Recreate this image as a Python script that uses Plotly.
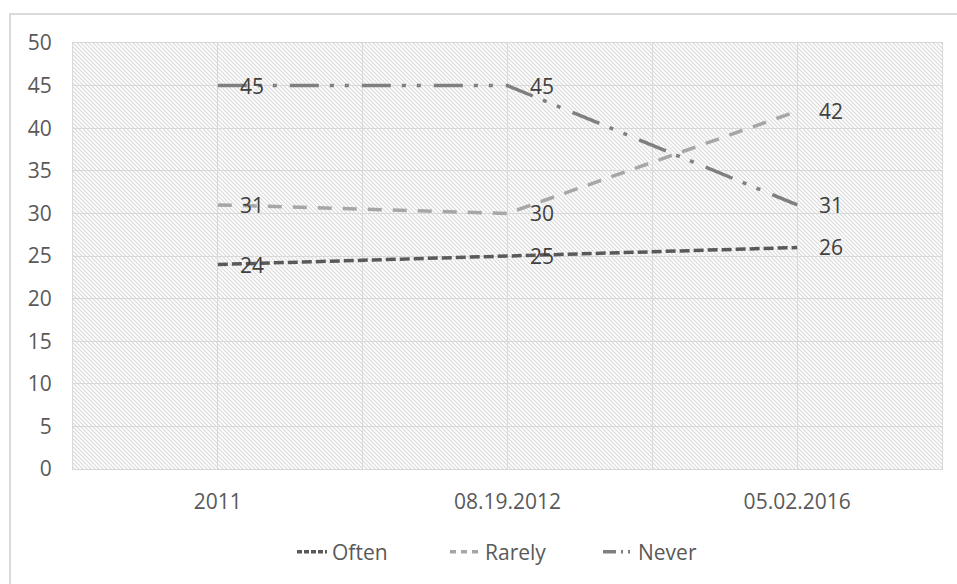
import base64
import plotly.graph_objects as go

categories = ["2011", "08.19.2012", "05.02.2016"]
often = [24, 25, 26]
rarely = [31, 30, 42]
never = [45, 45, 31]
y_ticks = [0, 5, 10, 15, 20, 25, 30, 35, 40, 45, 50]

W, H = 957, 584
ML, MR, MT, MB = 73, 15, 43, 115
PW, PH = W - ML - MR, H - MT - MB

FONT = "Open Sans"
TICK_COLOR = "#595959"
GRID = "#d9d9d9"

x_idx = list(range(len(categories)))

# name, values, color, dash on chart, dash for the (short) legend sample
series = [
    ("Often", often, "#595959", "10px,4px", "5px,2px"),
    ("Rarely", rarely, "#a6a6a6", "14px,11px", "6px,5px"),
    ("Never", never, "#7f7f7f", "29px,11px,4px,11px,4px,13px", "13px,5px,2px,5px,2px,5px"),
]

fig = go.Figure()
for name, vals, color, dash, ldash in series:
    fig.add_trace(go.Scatter(
        x=x_idx, y=vals, name=name, mode="lines",
        line=dict(color=color, width=3.5, dash=dash),
        hoverinfo="skip", showlegend=False,
    ))
# legend samples (no data, legend only)
for name, vals, color, dash, ldash in series:
    fig.add_trace(go.Scatter(
        x=[None], y=[None], name=name, mode="lines",
        line=dict(color=color, width=3.5, dash=ldash),
        hoverinfo="skip", showlegend=True,
    ))

annotations = []
for name, vals, color, dash, ldash in series:
    for i, v in zip(x_idx, vals):
        annotations.append(dict(
            x=i, y=v, text=str(v), showarrow=False, xanchor="left", yanchor="middle",
            xshift=20, font=dict(family=FONT, size=21, color="#404040"),
        ))

# hatch background pattern
svg = (
    f'<svg xmlns="http://www.w3.org/2000/svg" width="{PW}" height="{PH}">'
    '<defs><pattern id="p" width="4" height="4" patternUnits="userSpaceOnUse">'
    '<rect width="4" height="4" fill="#ffffff"/>'
    '<path d="M-1,-1 L5,5 M-1,3 L1,5 M3,-1 L5,1" stroke="#d9d9d9" stroke-width="1.1"/>'
    '</pattern></defs>'
    f'<rect width="{PW}" height="{PH}" fill="url(#p)"/></svg>'
)
src = "data:image/svg+xml;base64," + base64.b64encode(svg.encode()).decode()


def px_x(p):
    return (p - ML) / PW


def px_y(p):
    return (H - MB - p) / PH


fig.update_layout(
    width=W, height=H,
    margin=dict(l=ML, r=MR, t=MT, b=MB),
    paper_bgcolor="white",
    plot_bgcolor="rgba(0,0,0,0)",
    font=dict(family=FONT, size=21, color=TICK_COLOR),
    showlegend=True,
    legend=dict(
        orientation="h", x=px_x(292), xanchor="left", y=px_y(552), yanchor="middle",
        font=dict(family=FONT, size=21, color=TICK_COLOR),
        entrywidth=108, entrywidthmode="pixels",
        bgcolor="rgba(0,0,0,0)",
    ),
    images=[dict(
        source=src, xref="paper", yref="paper", x=0, y=1, sizex=1, sizey=1,
        xanchor="left", yanchor="top", sizing="stretch", layer="below",
    )],
    shapes=[dict(
        type="rect", xref="paper", yref="paper",
        x0=px_x(10), y0=px_y(H + 20), x1=px_x(W + 20), y1=px_y(14),
        line=dict(color=GRID, width=2), fillcolor="rgba(0,0,0,0)", layer="below",
    )],
    annotations=annotations,
)

fig.update_xaxes(
    range=[-0.5, len(categories) - 0.5],
    tickvals=x_idx, ticktext=categories,
    showgrid=True, gridcolor=GRID, gridwidth=1,
    minor=dict(tickvals=[-0.5, 0.5, 1.5, 2.5], showgrid=True, gridcolor=GRID, gridwidth=1),
    showline=True, linecolor=GRID, linewidth=1, mirror=True,
    ticks="", ticklabelstandoff=14,
    tickfont=dict(family=FONT, size=21, color=TICK_COLOR),
    zeroline=False, fixedrange=True,
)
fig.update_yaxes(
    range=[0, 50], tickvals=y_ticks,
    showgrid=True, gridcolor=GRID, gridwidth=1,
    showline=True, linecolor=GRID, linewidth=1, mirror=True,
    ticks="", ticklabelstandoff=16,
    tickfont=dict(family=FONT, size=21, color=TICK_COLOR),
    zeroline=False, fixedrange=True,
)

fig.write_html("out.html")
